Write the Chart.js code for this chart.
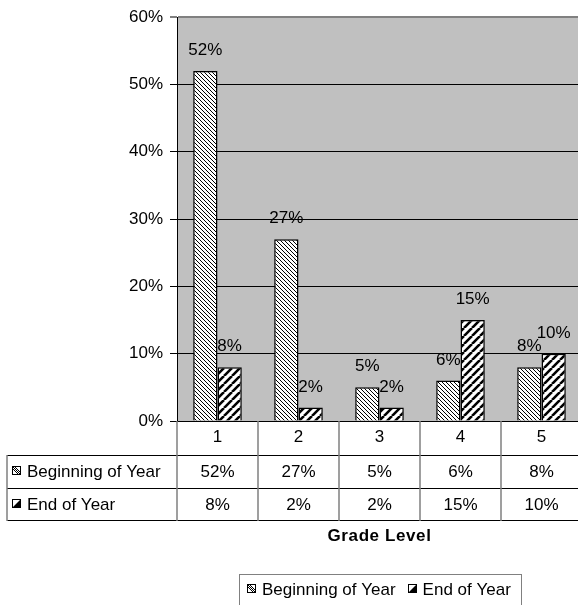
<!DOCTYPE html>
<html>
<head>
<meta charset="utf-8">
<script src="https://cdn.jsdelivr.net/npm/chart.js@4/dist/chart.umd.min.js"></script>
<style>
  html, body { margin: 0; padding: 0; background: #fff; overflow: hidden; }
  #wrap { width: 590px; height: 605px; }
</style>
</head>
<body>
<div id="wrap"><canvas id="gradeChart" width="590" height="605"></canvas></div>
<script>
// chart data
const categories = ['1', '2', '3', '4', '5'];
const beginningOfYear = [52, 27, 5, 6, 8];
const endOfYear = [8, 2, 2, 15, 10];
const seriesNames = ['Beginning of Year', 'End of Year'];
const yTicks = [0, 10, 20, 30, 40, 50, 60];
const axisTitle = 'Grade Level';

const FONT = '"Liberation Sans", Arial, sans-serif';

// hatch fills like the old excel patterns
function hatch(size, width, rising) {
    const c = document.createElement('canvas');
    c.width = c.height = size;
    const g = c.getContext('2d');
    g.fillStyle = '#fff';
    g.fillRect(0, 0, size, size);
    g.strokeStyle = '#000';
    g.lineWidth = width;
    g.beginPath();
    for (let x = -size; x <= size; x += size) {
        if (rising) {
            g.moveTo(x, size);
            g.lineTo(x + size, 0);
        } else {
            g.moveTo(x, 0);
            g.lineTo(x + size, size);
        }
    }
    g.stroke();
    return g.createPattern(c, 'repeat');
}
const thinHatch = hatch(4, 1, false);
const thickHatch = hatch(8, 2.6, true);

function drawKey(ctx, x, y, idx) {
    ctx.save();
    ctx.fillStyle = '#fff';
    ctx.fillRect(x, y, 9, 9);
    ctx.strokeStyle = '#000';
    ctx.lineWidth = 1;
    if (idx === 0) {
        ctx.beginPath();
        ctx.moveTo(x + 1, y + 1);
        ctx.lineTo(x + 8, y + 8);
        ctx.moveTo(x + 3, y + 1);
        ctx.lineTo(x + 8, y + 6);
        ctx.moveTo(x + 1, y + 3);
        ctx.lineTo(x + 6, y + 8);
        ctx.stroke();
    } else {
        ctx.fillStyle = '#000';
        ctx.beginPath();
        ctx.moveTo(x + 9, y);
        ctx.lineTo(x + 9, y + 9);
        ctx.lineTo(x, y + 9);
        ctx.closePath();
        ctx.fill();
    }
    ctx.strokeRect(x + 0.5, y + 0.5, 8, 8);
    ctx.restore();
}

const bgPlugin = {
    id: 'plotBg',
    beforeDraw(chart) {
        const { ctx, chartArea: a } = chart;
        ctx.save();
        ctx.fillStyle = '#c0c0c0';
        ctx.fillRect(a.left, a.top, a.right - a.left, a.bottom - a.top);
        ctx.restore();
    }
};

const labelPlugin = {
    id: 'barLabels',
    afterDatasetsDraw(chart) {
        const ctx = chart.ctx;
        ctx.save();
        ctx.font = '17px ' + FONT;
        ctx.fillStyle = '#000';
        ctx.textAlign = 'center';
        ctx.textBaseline = 'alphabetic';
        chart.data.datasets.forEach((ds, i) => {
            chart.getDatasetMeta(i).data.forEach((el, j) => {
                ctx.fillText(ds.data[j] + '%', el.x, el.y - 16);
            });
        });
        ctx.restore();
    }
};

const tablePlugin = {
    id: 'dataTable',
    afterDraw(chart) {
        const { ctx, chartArea: a } = chart;
        const catW = (a.right - a.left) / categories.length;
        const r0 = a.bottom, r1 = a.bottom + 34, r2 = a.bottom + 67, r3 = a.bottom + 99;
        const tableLeft = 7;
        ctx.save();
        // horizontal rules
        ctx.strokeStyle = '#000';
        ctx.lineWidth = 1;
        ctx.beginPath();
        [r1, r2, r3].forEach(y => {
            ctx.moveTo(tableLeft, y + 0.5);
            ctx.lineTo(a.right + 10, y + 0.5);
        });
        ctx.stroke();
        // vertical rules
        ctx.strokeStyle = '#808080';
        ctx.lineWidth = 1.5;
        ctx.beginPath();
        ctx.moveTo(tableLeft, r1);
        ctx.lineTo(tableLeft, r3 + 1);
        for (let i = 0; i <= categories.length; i++) {
            const x = Math.round(a.left + i * catW);
            ctx.moveTo(x, r0);
            ctx.lineTo(x, r3 + 1);
        }
        ctx.stroke();

        ctx.font = '17px ' + FONT;
        ctx.fillStyle = '#000';
        ctx.textBaseline = 'alphabetic';
        ctx.textAlign = 'center';
        const baselines = [r0 + 21, r1 + 22, r2 + 22];
        categories.forEach((c, i) => {
            const cx = a.left + (i + 0.5) * catW;
            ctx.fillText(c, cx, baselines[0]);
            ctx.fillText(beginningOfYear[i] + '%', cx, baselines[1]);
            ctx.fillText(endOfYear[i] + '%', cx, baselines[2]);
        });
        ctx.textAlign = 'left';
        seriesNames.forEach((name, i) => {
            drawKey(ctx, 12, baselines[i + 1] - 11, i);
            ctx.fillText(name, 27, baselines[i + 1]);
        });

        // axis title
        ctx.textAlign = 'center';
        ctx.font = 'bold 17px ' + FONT;
        ctx.letterSpacing = '0.6px';
        const mid = (a.left + a.right) / 2;
        ctx.fillText(axisTitle, mid, 541);

        // legend box
        ctx.font = '17px ' + FONT;
        ctx.letterSpacing = '0px';
        const w0 = ctx.measureText(seriesNames[0]).width;
        const w1 = ctx.measureText(seriesNames[1]).width;
        const total = 8 + 9 + 6 + w0 + 12 + 9 + 6 + w1 + 10;
        let x = Math.round(mid - total / 2);
        ctx.strokeStyle = '#808080';
        ctx.lineWidth = 1;
        ctx.strokeRect(x + 0.5, 574.5, Math.round(total), 40);
        ctx.textAlign = 'left';
        x += 8;
        drawKey(ctx, x, 584, 0);
        x += 15;
        ctx.fillText(seriesNames[0], x, 595);
        x += w0 + 12;
        drawKey(ctx, Math.round(x), 584, 1);
        x += 15;
        ctx.fillText(seriesNames[1], x, 595);
        ctx.restore();
    }
};

new Chart(document.getElementById('gradeChart'), {
    type: 'bar',
    data: {
        labels: categories,
        datasets: [
            { label: seriesNames[0], data: beginningOfYear, backgroundColor: thinHatch, borderColor: '#000', borderWidth: 1.5 },
            { label: seriesNames[1], data: endOfYear, backgroundColor: thickHatch, borderColor: '#000', borderWidth: 1.5 }
        ]
    },
    options: {
        responsive: false,
        animation: false,
        devicePixelRatio: 1,
        layout: { padding: { left: 0, top: 16, right: 8, bottom: 184 } },
        datasets: { bar: { categoryPercentage: 0.6, barPercentage: 1 } },
        plugins: { legend: { display: false }, tooltip: { enabled: false } },
        scales: {
            x: { display: false },
            y: {
                min: yTicks[0],
                max: yTicks[yTicks.length - 1],
                afterFit(scale) { scale.width = 177; },
                afterBuildTicks(scale) { scale.ticks = yTicks.map(v => ({ value: v })); },
                ticks: {
                    padding: 7,
                    color: '#000',
                    font: { family: FONT, size: 17 },
                    callback: v => v + '%'
                },
                grid: {
                    tickLength: 7,
                    color: c => (c.tick && c.tick.value === 60 ? '#808080' : '#000'),
                    lineWidth: c => (c.tick && c.tick.value === 60 ? 2 : 1)
                },
                border: { color: '#000', width: 1 }
            }
        }
    },
    plugins: [bgPlugin, labelPlugin, tablePlugin]
});
</script>
</body>
</html>
